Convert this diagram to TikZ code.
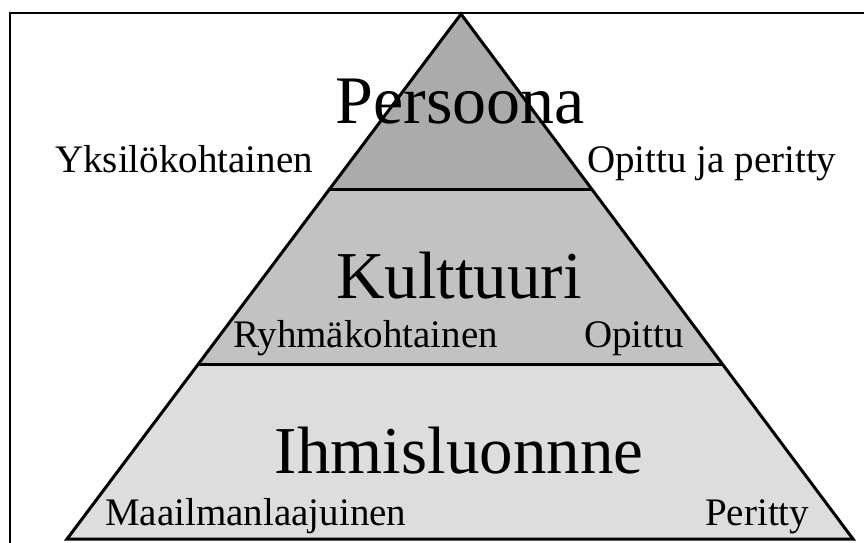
\documentclass[tikz,border=0pt]{standalone}
\usepackage{fontspec}
\setmainfont{Liberation Serif}
\begin{document}
\begin{tikzpicture}[x=1pt,y=-1pt,
  title/.style={anchor=base,inner sep=0pt,font=\fontsize{67}{67}\selectfont},
  side/.style={anchor=base west,inner sep=0pt,font=\fontsize{39}{39}\selectfont},
  edge/.style={line width=3pt,line join=miter,line cap=butt}]
\useasboundingbox (0,0) rectangle (864,543);
% outer frame (runs past the page on the right and bottom)
\draw[line width=1.5pt] (10,13) rectangle (880,560);
% pyramid corners and tier boundaries
\coordinate (apex) at (461,14);
\coordinate (bl) at (67,539);
\coordinate (br) at (853,539);
\coordinate (l1) at (330,189);
\coordinate (r1) at (592,189);
\coordinate (l2) at (199,364);
\coordinate (r2) at (723,364);
% tier fills
\fill[gray!66!white] (apex) -- (r1) -- (l1) -- cycle;
\fill[gray!48!white] (l1) -- (r1) -- (r2) -- (l2) -- cycle;
\fill[gray!27!white] (l2) -- (r2) -- (br) -- (bl) -- cycle;
% outline and dividers
\draw[edge] (bl) -- (apex) -- (br) -- cycle;
\draw[edge] (l1) -- (r1);
\draw[edge] (l2) -- (r2);
% texts
\node[title,font=\fontsize{68}{68}\selectfont] (persoona) at (460,123) {Persoona};
\node[title] (kulttuuri) at (459,298) {Kulttuuri};
\node[title] (ihminen) at (459,473) {Ihmisluonnne};
\node[side] (yksilo) at (55,172) {Yksilökohtainen};
\node[side] (opperi) at (587,172) {Opittu ja peritty};
\node[side] (ryhma) at (233,347) {Ryhmäkohtainen};
\node[side] (opittu) at (584,347) {Opittu};
\node[side] (maailma) at (105,525) {Maailmanlaajuinen};
\node[side] (peritty) at (705,525) {Peritty};
\end{tikzpicture}
\end{document}
